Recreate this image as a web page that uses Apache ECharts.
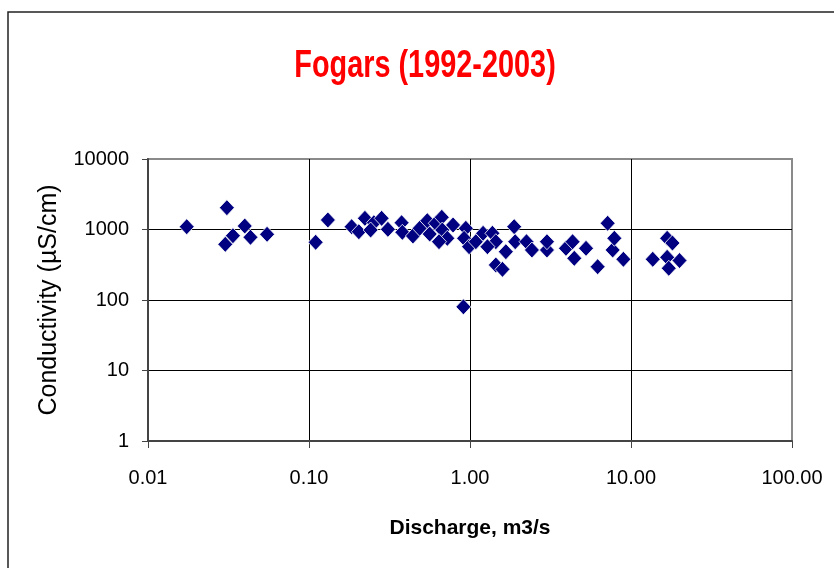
<!DOCTYPE html>
<html>
<head>
<meta charset="utf-8">
<script src="https://cdn.jsdelivr.net/npm/echarts@6/dist/echarts.min.js"></script>
<style>html,body{margin:0;padding:0;background:#fff}#c{width:834px;height:568px}</style>
</head>
<body>
<div id="c"></div>
<script>
var chartTitle = 'Fogars (1992-2003)';
var xTitle = 'Discharge, m3/s';
var yTitle = 'Conductivity (\u00b5S/cm)';
var xTickLabels = ['0.01', '0.10', '1.00', '10.00', '100.00'];
var yTickLabels = ['1', '10', '100', '1000', '10000'];

var discharge = [
  0.0174, 0.0309, 0.0399, 0.0337, 0.0302, 0.0433, 0.0549, 0.110, 0.131,
  0.184, 0.204, 0.2225, 0.253, 0.2825, 0.2414, 0.309, 0.376, 0.380, 0.442,
  0.487, 0.543, 0.562, 0.6125, 0.668, 0.673, 0.723, 0.642, 0.785, 0.942,
  0.919, 0.987, 1.087, 1.206, 1.378, 1.447, 1.670, 1.881, 1.909, 1.447,
  1.591, 0.910, 1.283, 2.244, 2.424, 3.006, 3.006, 3.946, 4.444, 4.337,
  5.256, 6.206, 7.161, 7.693, 7.882, 8.968, 13.65, 16.77, 16.77, 17.16,
  20.01, 18.09
];
var conductivity = [
  1096, 2037, 1121, 816, 616, 775, 855, 658, 1365,
  1096, 930, 1441, 1249, 1441, 984, 1007, 1249, 912, 809,
  1040, 1333, 863, 1225, 1489, 984, 750, 671, 1158, 1040,
  750, 570, 671, 883, 883, 671, 484, 1096, 671, 314,
  272, 80, 570, 671, 512, 512, 671, 541, 390, 671,
  541, 297, 1225, 512, 750, 378, 378, 750, 403, 282,
  363, 643
];

var points = discharge.map(function (d, i) { return [d, conductivity[i]]; });

var chart = echarts.init(document.getElementById('c'), null, {renderer: 'canvas'});
var txt = '#000';
chart.setOption({
  animation: false,
  backgroundColor: '#fff',
  graphic: [{
    type: 'rect',
    shape: {x: 8, y: 12, width: 900, height: 700},
    style: {fill: 'none', stroke: '#222', lineWidth: 1.5},
    silent: true,
    z: 0
  }, {
    type: 'text',
    x: 425, y: 66,
    scaleX: 0.74,
    style: {
      text: chartTitle,
      fill: '#ff0000',
      font: 'bold 39px "Liberation Sans", sans-serif',
      textAlign: 'center',
      textVerticalAlign: 'middle'
    },
    silent: true,
    z: 10
  }],
  grid: {
    left: 148, right: 42, top: 159, bottom: 127,
    show: true, borderColor: '#8a8a8a', borderWidth: 2, backgroundColor: 'transparent'
  },
  xAxis: {
    type: 'log', logBase: 10, min: 0.01, max: 100,
    name: xTitle, nameLocation: 'middle', nameGap: 77,
    nameTextStyle: {fontFamily: 'Liberation Sans', fontWeight: 'bold', fontSize: 21, color: txt},
    axisLine: {show: true, lineStyle: {color: '#444', width: 2}},
    axisTick: {show: true, length: 7, lineStyle: {color: '#444', width: 1}},
    axisLabel: {
      margin: 27, fontFamily: 'Liberation Sans', fontSize: 20, color: txt,
      formatter: function (v) { return xTickLabels[Math.round(Math.log10(v)) + 2]; }
    },
    splitLine: {show: true, showMinLine: false, showMaxLine: false, lineStyle: {color: '#000', width: 1}},
    minorTick: {show: false}
  },
  yAxis: {
    type: 'log', logBase: 10, min: 1, max: 10000,
    name: yTitle, nameLocation: 'middle', nameGap: 86, nameRotate: 90,
    nameTextStyle: {fontFamily: 'Liberation Sans', fontSize: 25, color: txt},
    axisLine: {show: true, lineStyle: {color: '#444', width: 2}},
    axisTick: {show: true, length: 6, lineStyle: {color: '#444', width: 1}},
    axisLabel: {
      margin: 19, fontFamily: 'Liberation Sans', fontSize: 20, color: txt,
      formatter: function (v) { return yTickLabels[Math.round(Math.log10(v))]; }
    },
    splitLine: {show: true, showMinLine: false, showMaxLine: false, lineStyle: {color: '#000', width: 1}}
  },
  series: [{
    type: 'scatter',
    data: points,
    symbol: 'diamond',
    symbolSize: [15, 16],
    itemStyle: {color: '#000080', borderColor: '#ffffff', borderWidth: 0.8, opacity: 1},
    clip: false
  }]
});
</script>
</body>
</html>
